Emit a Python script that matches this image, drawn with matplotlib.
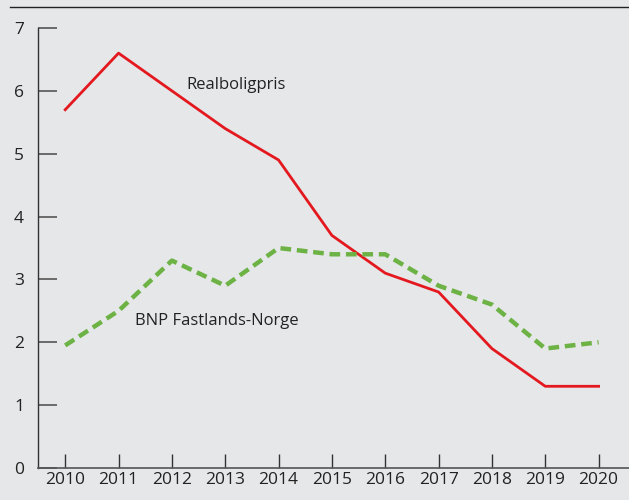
import matplotlib.pyplot as plt
from matplotlib.lines import Line2D

years = [2010, 2011, 2012, 2013, 2014, 2015, 2016, 2017, 2018, 2019, 2020]
realboligpris = [5.7, 6.6, 6.0, 5.4, 4.9, 3.7, 3.1, 2.8, 1.9, 1.3, 1.3]
bnp_fastland = [1.95, 2.5, 3.3, 2.9, 3.5, 3.4, 3.4, 2.9, 2.6, 1.9, 2.0]

bg = "#e6e7e8"
plt.rcParams["font.family"] = ["Open Sans", "DejaVu Sans"]

fig = plt.figure(figsize=(6.29, 5.0), dpi=100, facecolor=bg)
ax = fig.add_axes([38 / 629, 32 / 500, 1 - 38 / 629, 440 / 500])
ax.set_facecolor(bg)

ax.plot(years, realboligpris, color="#e3191f", lw=2)
ax.plot(years, bnp_fastland, color="#6cb244", lw=3.2, ls=(0, (2.4, 1.3)))

ax.text(2012.28, 6.1, "Realboligpris", fontsize=12, color="#222222",
        va="center")
ax.text(2011.31, 2.34, "BNP Fastlands-Norge", fontsize=12, color="#222222",
        va="center")

ax.set_xlim(2009.49, 2020.57)
ax.set_ylim(0, 7)
ax.set_xticks(years)
ax.set_yticks(range(0, 8))
ax.tick_params(axis="y", direction="in", length=14, width=1.2, color="#555555",
               labelsize=12.5, labelcolor="#222222", pad=10)
ax.tick_params(axis="x", direction="in", length=10, width=1.0, color="#333333",
               labelsize=12.5, labelcolor="#222222", pad=3)
for s in ["top", "right"]:
    ax.spines[s].set_visible(False)
ax.spines["left"].set_color("#333333")
ax.spines["bottom"].set_color("#555555")
ax.spines["left"].set_linewidth(1.0)
ax.spines["bottom"].set_linewidth(1.2)

fig.add_artist(Line2D([10 / 629, 1], [1 - 7 / 500, 1 - 7 / 500],
                      color="#222222", lw=1.0, transform=fig.transFigure))

fig.savefig("out.png", dpi=100, facecolor=bg)
